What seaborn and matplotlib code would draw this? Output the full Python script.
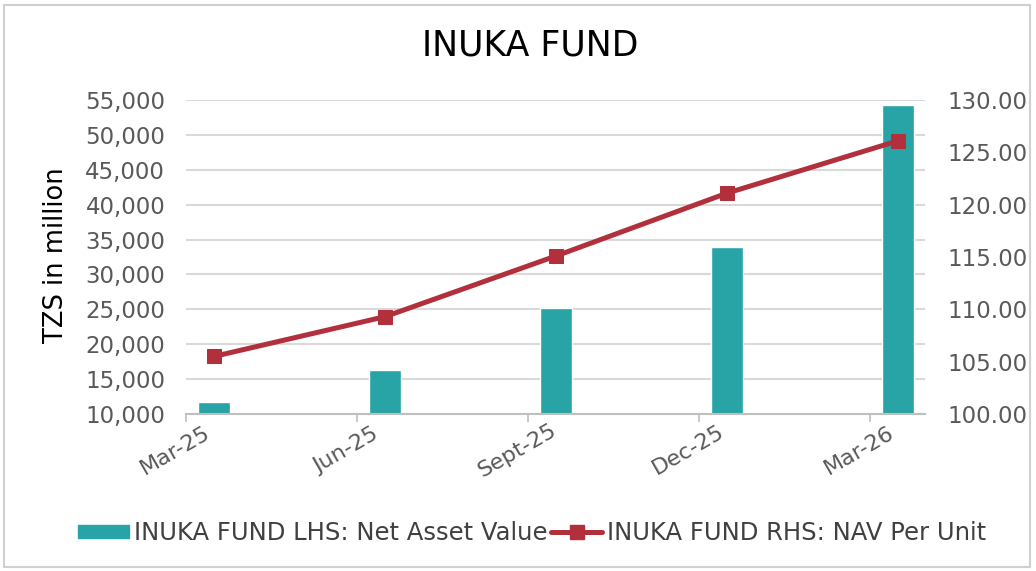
import numpy as np
import pandas as pd
import matplotlib
matplotlib.use("Agg")
import matplotlib.pyplot as plt
import matplotlib.transforms as mtransforms
from matplotlib.patches import Patch, FancyBboxPatch
from matplotlib.lines import Line2D
import seaborn as sns

# ---- data ----
periods = ["Mar-25", "Jun-25", "Sept-25", "Dec-25", "Mar-26"]
nav_tzs_million = [11700, 16300, 25200, 33900, 54300]
nav_per_unit = [105.5, 109.3, 115.1, 121.1, 126.1]
lhs_label = "INUKA FUND LHS: Net Asset Value"
rhs_label = "INUKA FUND RHS: NAV Per Unit"
title = "INUKA FUND"
ylabel = "TZS in million"

TEAL = "#29A4A6"
RED = "#B1303C"
GRID = "#D9D9D9"
TXT = "#595959"

sns.set_theme(style="white")
plt.rcParams["font.family"] = ["DejaVu Sans"]

df = pd.DataFrame({"period": periods, "nav": nav_tzs_million,
                   "unit": nav_per_unit, "pos": np.arange(len(periods))})

fig = plt.figure(figsize=(10.36, 5.71), dpi=100)
fig.patch.set_facecolor("white")
ax = fig.add_axes([186 / 1036, 1 - 414 / 571, (925 - 186) / 1036, (414 - 100) / 571])

sns.barplot(data=df, x="pos", y="nav", native_scale=True, width=0.19,
            color=TEAL, saturation=1, ax=ax, zorder=2)
ax.set_ylim(10000, 55000)
ax.set_yticks(np.arange(10000, 55001, 5000))
ax.yaxis.set_major_formatter(matplotlib.ticker.FuncFormatter(lambda v, p: f"{v:,.0f}"))
ax.grid(axis="y", color=GRID, linewidth=1.5)
ax.set_axisbelow(True)
ax.set_xlabel("")
ax.set_ylabel("")

ax2 = ax.twinx()
sns.lineplot(data=df, x="pos", y="unit", ax=ax2, color=RED, linewidth=3.6,
             marker="s", markersize=10, markeredgecolor=RED, zorder=3)
ax2.set_ylim(100, 130)
ax2.set_yticks(np.arange(100, 130.01, 5))
ax2.yaxis.set_major_formatter(matplotlib.ticker.FormatStrFormatter("%.2f"))
ax2.set_ylabel("")
ax2.set_xlabel("")

off = 0.164
ax.set_xlim(-off, len(periods) - 1 + 0.158)
ax.set_xticks(df["pos"] - off)
ax.set_xticklabels(periods)

for a in (ax, ax2):
    for s in a.spines.values():
        s.set_visible(False)
ax.spines["bottom"].set_visible(True)
ax.spines["bottom"].set_color("#BFBFBF")
ax.spines["bottom"].set_linewidth(1.5)

ax.tick_params(axis="y", length=0, labelsize=16.5, labelcolor=TXT, pad=15)
ax2.tick_params(axis="y", length=0, labelsize=16.5, labelcolor=TXT, pad=16)
ax.tick_params(axis="x", length=6, width=1.2, color="#BFBFBF", direction="out",
               labelsize=16, labelcolor=TXT, pad=20, bottom=True)
shift = mtransforms.ScaledTranslation(-11 / 100, 0, fig.dpi_scale_trans)
for lab in ax.get_xticklabels():
    lab.set_rotation(30)
    lab.set_rotation_mode("anchor")
    lab.set_ha("center")
    lab.set_va("center")
    lab.set_transform(lab.get_transform() + shift)

fig.text(530 / 1036, 1 - 45 / 571, title, ha="center", va="center",
         fontsize=25, color="black")
fig.text(56 / 1036, 1 - 255 / 571, ylabel, rotation=90, ha="center",
         va="center", fontsize=18.5, color="black")

handles = [Patch(facecolor=TEAL, edgecolor=TEAL),
           Line2D([0], [0], color=RED, linewidth=3.6, marker="s",
                  markersize=10)]
leg = fig.legend(handles, [lhs_label, rhs_label], loc="center",
                 bbox_to_anchor=(532 / 1036, 1 - 533 / 571), ncol=2,
                 frameon=False, fontsize=17.5, handlelength=2.1,
                 handleheight=0.45, handletextpad=0.2, columnspacing=0.15)
for t in leg.get_texts():
    t.set_color("#404040")

fig.patches.append(FancyBboxPatch((4 / 1036, 4 / 571), 1026 / 1036, 562 / 571,
                                  boxstyle="square,pad=0", transform=fig.transFigure,
                                  facecolor="none", edgecolor="#D0D0D0",
                                  linewidth=1.5, figure=fig))

fig.savefig("out.png", dpi=100)
